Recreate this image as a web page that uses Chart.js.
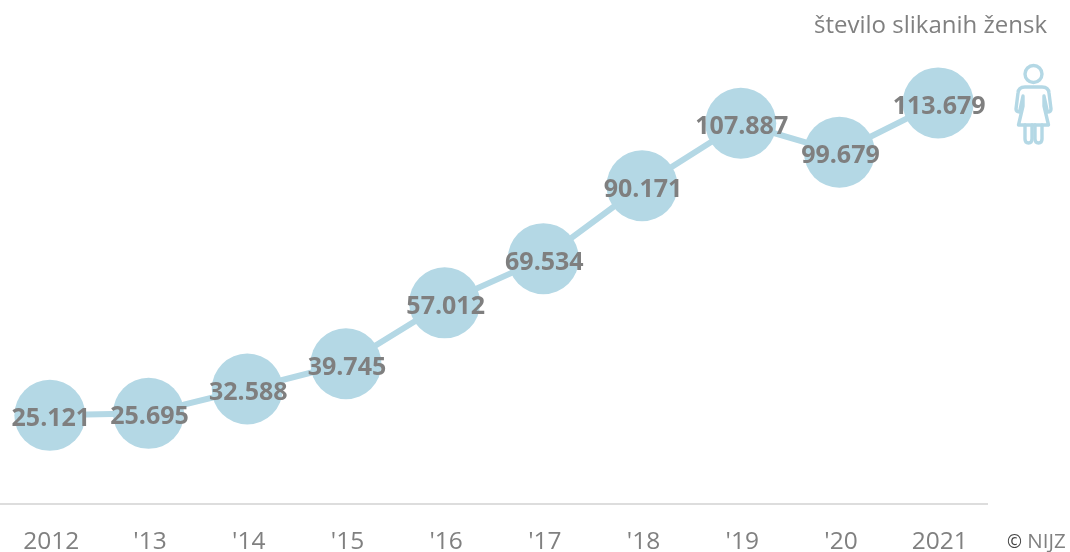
<!DOCTYPE html>
<html>
<head>
<meta charset="utf-8">
<script src="https://cdn.jsdelivr.net/npm/chart.js@4"></script>
<style>
    html, body { margin: 0; padding: 0; background: #fff; }
    #wrap { position: relative; width: 1070px; height: 552px; overflow: hidden; font-family: "Open Sans", sans-serif; }
    #title { position: absolute; right: 23px; top: 7px; font-size: 24px; line-height: 33px; color: #808080; }
    #credit { position: absolute; left: 1007px; top: 526px; font-size: 20.5px; line-height: 28px; color: #808080; white-space: nowrap; }
    #credit b { font-weight: 400; font-size: 18px; color: #444; }
    #icon { position: absolute; left: 1010px; top: 60px; }
</style>
</head>
<body>
<div id="wrap">
    <canvas id="chart" width="1070" height="552"></canvas>
    <div id="title">število slikanih žensk</div>
    <div id="credit"><b>©</b> NIJZ</div>
    <svg id="icon" width="48" height="92" viewBox="0 0 48 92" fill="none" stroke="#b4d8e5" stroke-width="3.4" stroke-linejoin="round" stroke-linecap="round">
        <circle cx="23.5" cy="14" r="8.5"/>
        <path d="M15 27 H32 Q38.5 27 39 33 L41 49 Q41 52 37.5 52 L34 36 V46 L38.5 65 H8.5 L13 46 V36 L9.5 52 Q6 52 6 49 L8 33 Q8.5 27 15 27 Z"/>
        <path d="M15 65 V79 Q15 83 18.5 83 Q22 83 22 79 V65"/>
        <path d="M25 65 V79 Q25 83 28.5 83 Q32 83 32 79 V65"/>
    </svg>
</div>
<script>
var categories = ["2012", "'13", "'14", "'15", "'16", "'17", "'18", "'19", "'20", "2021"];
var screened = [25121, 25695, 32588, 39745, 57012, 69534, 90171, 107887, 99679, 113679];
var valueLabels = ["25.121", "25.695", "32.588", "39.745", "57.012", "69.534", "90.171", "107.887", "99.679", "113.679"];

// the numbers sit on top of the circles and the line
var valueLabelsPlugin = {
    id: 'valueLabels',
    afterDatasetsDraw: function (chart) {
        var ctx = chart.ctx;
        var points = chart.getDatasetMeta(0).data;
        ctx.save();
        ctx.font = 'bold 25px "Open Sans"';
        ctx.fillStyle = '#7f7f7f';
        ctx.textAlign = 'center';
        ctx.textBaseline = 'middle';
        points.forEach(function (point, i) {
            ctx.fillText(valueLabels[i], point.x + 1, point.y + 4);
        });
        ctx.restore();
    }
};

new Chart(document.getElementById('chart'), {
    type: 'line',
    plugins: [valueLabelsPlugin],
    data: {
        labels: categories,
        datasets: [{
            data: screened,
            borderColor: '#b4d8e5',
            borderWidth: 6,
            backgroundColor: '#b4d8e5',
            pointBackgroundColor: '#b4d8e5',
            pointBorderWidth: 0,
            pointRadius: 35.5,
            tension: 0,
            clip: false
        }]
    },
    options: {
        responsive: false,
        animation: false,
        // autoPadding would push the axis in by the point radius
        layout: { autoPadding: false, padding: { left: 0.5, right: 82.5, top: 10, bottom: 0 } },
        plugins: {
            legend: { display: false },
            tooltip: { enabled: false }
        },
        scales: {
            x: {
                offset: true,
                afterFit: function (scale) {
                    scale.paddingLeft = 0;
                    scale.paddingRight = 0;
                    scale.height = 48;
                },
                border: { color: '#dddddd', width: 2 },
                grid: { display: false },
                ticks: {
                    color: '#808080',
                    font: { family: '"Open Sans"', size: 24.5 },
                    padding: 15,
                    labelOffset: 1.5,
                    maxRotation: 0,
                    autoSkip: false
                }
            },
            y: {
                display: false,
                min: 0,
                max: 140000
            }
        }
    }
});
</script>
</body>
</html>
